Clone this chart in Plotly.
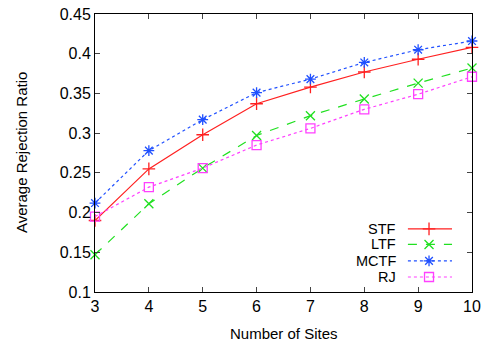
import plotly.graph_objects as go

sites = [3, 4, 5, 6, 7, 8, 9, 10]
stf = [0.190, 0.255, 0.298, 0.337, 0.358, 0.377, 0.393, 0.408]
ltf = [0.147, 0.211, 0.256, 0.297, 0.322, 0.343, 0.363, 0.382]
mctf = [0.212, 0.278, 0.317, 0.351, 0.368, 0.389, 0.405, 0.416]
rj = [0.195, 0.232, 0.256, 0.285, 0.306, 0.330, 0.349, 0.371]

y_ticks = [0.1, 0.15, 0.2, 0.25, 0.3, 0.35, 0.4, 0.45]
y_labels = ["0.1", "0.15", "0.2", "0.25", "0.3", "0.35", "0.4", "0.45"]

series = [
    ("STF", stf, "#ff2020", "solid", "cross-thin-open"),
    ("LTF", ltf, "#20e020", "dash", "x-thin-open"),
    ("MCTF", mctf, "#2050ff", "dot", "asterisk-open"),
    ("RJ", rj, "#ff40ff", "dot", "square-open"),
]

fig = go.Figure()
for name, vals, color, dash, sym in series:
    fig.add_trace(go.Scatter(
        x=sites, y=vals, name=name, mode="lines+markers",
        line=dict(color=color, width=1.2, dash=dash),
        marker=dict(symbol=sym, size=9, color=color, line=dict(color=color, width=1.3)),
        showlegend=False, cliponaxis=False,
    ))

# custom gnuplot-style legend (text left, sample right)
leg_x_text = 0.80
leg_y = [0.227, 0.171, 0.112, 0.054]
for (name, vals, color, dash, sym), ly in zip(series, leg_y):
    fig.add_annotation(xref="paper", yref="paper", x=leg_x_text, y=ly,
                       text=name, showarrow=False, xanchor="right", yanchor="middle",
                       font=dict(size=14.5, color="black"), borderpad=0)
    fig.add_trace(go.Scatter(
        x=[0.83, 0.886, 0.947], y=[ly, ly, ly], xaxis="x2", yaxis="y2",
        mode="lines", line=dict(color=color, width=1.2, dash=dash),
        showlegend=False, hoverinfo="skip"))
    fig.add_trace(go.Scatter(
        x=[0.886], y=[ly], xaxis="x2", yaxis="y2", mode="markers",
        marker=dict(symbol=sym, size=9, color=color, line=dict(color=color, width=1.3)),
        showlegend=False, hoverinfo="skip"))

# axis titles
fig.add_annotation(xref="paper", yref="paper", x=0.5, y=-0.148, text="Number of Sites",
                   showarrow=False, xanchor="center", yanchor="middle",
                   font=dict(size=15, color="black"))
fig.add_annotation(xref="paper", yref="paper", x=-0.196, y=0.5, text="Average Rejection Ratio",
                   showarrow=False, xanchor="center", yanchor="middle", textangle=-90,
                   font=dict(size=15, color="black"))

fig.update_layout(
    width=484, height=343,
    margin=dict(l=95, r=12, t=14, b=51),
    paper_bgcolor="white", plot_bgcolor="white",
    font=dict(family="Liberation Sans, Arial, sans-serif", size=16, color="black"),
    xaxis=dict(
        range=[3, 10], tickvals=sites, ticks="inside", ticklen=5, mirror="allticks",
        showline=True, linecolor="black", linewidth=1, showgrid=False, zeroline=False,
        tickfont=dict(size=16), automargin=False,
    ),
    yaxis=dict(
        range=[0.1, 0.45], tickvals=y_ticks, ticktext=y_labels, ticks="inside", ticklen=5,
        mirror="allticks", showline=True, linecolor="black", linewidth=1, showgrid=False,
        zeroline=False, tickfont=dict(size=16), automargin=False,
    ),
    xaxis2=dict(range=[0, 1], overlaying="x", visible=False, fixedrange=True),
    yaxis2=dict(range=[0, 1], overlaying="y", visible=False, fixedrange=True),
)

fig.write_html("out.html", config={"displayModeBar": False},
               post_script="document.body.style.margin='0px';document.body.style.overflow='hidden';")
